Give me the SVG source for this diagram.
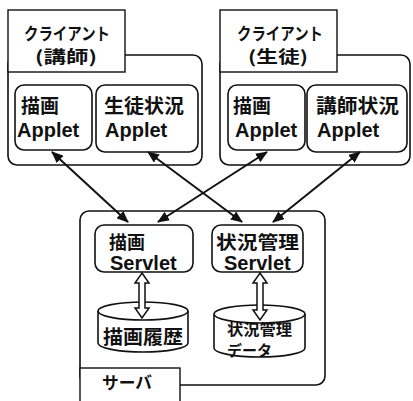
<svg xmlns="http://www.w3.org/2000/svg" width="413" height="401" viewBox="0 0 413 401">
<style>
.box{fill:#fff;stroke:#111;stroke-width:1.6}
.lbl{fill:#fff;stroke:#111;stroke-width:1.4}
.t{font-family:"Noto Sans CJK JP","Liberation Sans",sans-serif;font-weight:bold;fill:#111}
.e{font-family:"Liberation Sans",Arial,sans-serif;font-weight:bold;fill:#111;font-size:20px}
.con{stroke:#111;stroke-width:2;fill:none;marker-start:url(#ah);marker-end:url(#ah)}
.dbl{fill:#fff;stroke:#111;stroke-width:1.5}
</style>
<defs>
<marker id="ah" markerUnits="userSpaceOnUse" markerWidth="12" markerHeight="10" refX="11" refY="5" orient="auto-start-reverse">
<path d="M0,0 L12,5 L0,10 Z" fill="#111"/>
</marker>
</defs>
<rect width="413" height="401" fill="#fff"/>

<g id="client-teacher">
<rect class="box" x="8" y="55" width="194" height="110" rx="9"/>
<rect class="lbl" x="8" y="10" width="117" height="62"/>
<text class="t" x="24" y="40" font-size="17" textLength="86" lengthAdjust="spacingAndGlyphs">クライアント</text>
<text class="t" x="35" y="63" font-size="17" textLength="62" lengthAdjust="spacingAndGlyphs">(講師)</text>
</g>
<g id="draw-applet-t">
<rect class="box" x="15" y="85" width="77" height="65" rx="9"/>
<text class="t" x="21" y="113" font-size="19">描画</text>
<text class="e" x="17" y="137">Applet</text>
</g>
<g id="student-status-applet">
<rect class="box" x="96" y="85" width="102" height="67" rx="9"/>
<text class="t" x="104" y="113" font-size="19" textLength="80" lengthAdjust="spacingAndGlyphs">生徒状況</text>
<text class="e" x="105" y="137">Applet</text>
</g>

<g id="client-student">
<rect class="box" x="220" y="55" width="190" height="110" rx="9"/>
<rect class="lbl" x="220" y="10" width="117" height="62"/>
<text class="t" x="237" y="40" font-size="17" textLength="86" lengthAdjust="spacingAndGlyphs">クライアント</text>
<text class="t" x="248" y="63" font-size="17" textLength="60" lengthAdjust="spacingAndGlyphs">(生徒)</text>
</g>
<g id="draw-applet-s">
<rect class="box" x="228" y="85" width="77" height="65" rx="9"/>
<text class="t" x="233" y="113" font-size="19">描画</text>
<text class="e" x="235" y="137">Applet</text>
</g>
<g id="teacher-status-applet">
<rect class="box" x="307" y="85" width="100" height="67" rx="9"/>
<text class="t" x="316" y="113" font-size="19" textLength="83" lengthAdjust="spacingAndGlyphs">講師状況</text>
<text class="e" x="317" y="137">Applet</text>
</g>

<g id="server">
<rect class="box" x="80" y="211" width="245" height="174" rx="9"/>
<rect class="lbl" x="80" y="368" width="100" height="40"/>
<text class="t" x="102" y="389" font-size="17" textLength="50" lengthAdjust="spacingAndGlyphs">サーバ</text>
</g>
<g id="draw-servlet">
<rect class="box" x="95" y="225" width="98" height="47" rx="9"/>
<text class="t" x="109" y="249" font-size="18">描画</text>
<text class="e" x="110" y="270">Servlet</text>
</g>
<g id="status-servlet">
<rect class="box" x="212" y="225" width="91" height="47" rx="9"/>
<text class="t" x="216" y="249" font-size="18" textLength="83" lengthAdjust="spacingAndGlyphs">状況管理</text>
<text class="e" x="224" y="270">Servlet</text>
</g>

<g id="draw-history">
<path class="box" d="M98,311 A45,9 0 0 1 188,311 L188,343 A45,9 0 0 1 98,343 Z"/>
<path class="box" fill="none" d="M98,311 A45,9 0 0 0 188,311"/>
<text class="t" x="103" y="344" font-size="19" textLength="80" lengthAdjust="spacingAndGlyphs">描画履歴</text>
</g>
<g id="status-data">
<path class="box" d="M214,314 A45.5,9 0 0 1 305,314 L305,348 A45.5,9 0 0 1 214,348 Z"/>
<path class="box" fill="none" d="M214,314 A45.5,9 0 0 0 305,314"/>
<text class="t" x="227" y="335" font-size="15" textLength="65" lengthAdjust="spacingAndGlyphs">状況管理</text>
<text class="t" x="227" y="356" font-size="15">データ</text>
</g>

<g id="connectors">
<line class="con" x1="52" y1="152" x2="128" y2="222"/>
<line class="con" x1="148" y1="152" x2="242" y2="222"/>
<line class="con" x1="267" y1="152" x2="158" y2="222"/>
<line class="con" x1="360" y1="152" x2="273" y2="222"/>
<polygon class="dbl" points="142,273 149,283 145,283 145,308 149,308 142,318 135,308 139,308 139,283 135,283"/>
<polygon class="dbl" points="260,273 267,283 263,283 263,310 267,310 260,320 253,310 257,310 257,283 253,283"/>
</g>
</svg>
